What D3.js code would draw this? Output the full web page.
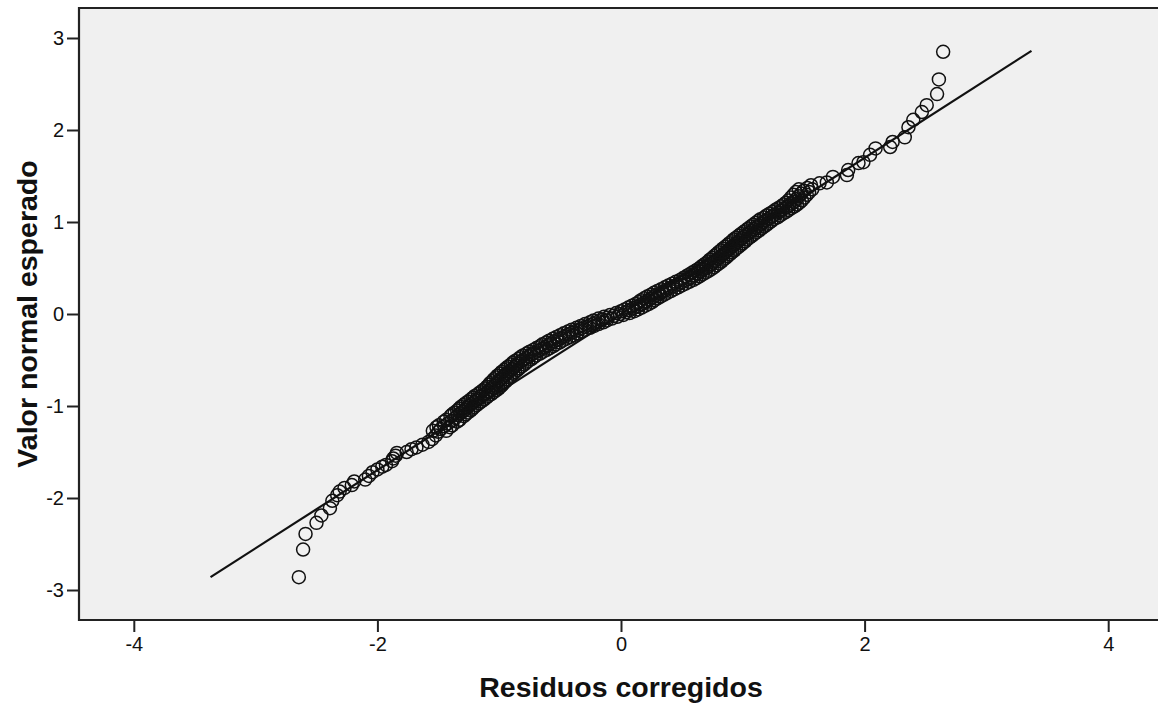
<!DOCTYPE html>
<html>
<head>
<meta charset="utf-8">
<script src="https://cdn.jsdelivr.net/npm/d3@7"></script>
<style>
  body { margin: 0; background: #fff; }
  svg text { font-family: "Liberation Sans", Arial, sans-serif; fill: #111; }
</style>
</head>
<body>
<div class="qq-plot"></div>
<script>
// residuals (x) and expected normal values (y)
var residuos = [
  -2.645, -2.61, -2.59, -2.50, -2.46, -2.39, -2.37, -2.33, -2.31, -2.27,
  -2.21, -2.19, -2.10, -2.07, -2.04, -2.00, -1.96, -1.93, -1.88, -1.87,
  -1.85, -1.84, -1.76, -1.72, -1.68, -1.63, -1.58, -1.55, -1.52, -1.50,
  -1.48, -1.45, -1.42, -1.39, -1.36, -1.34,
  -1.32, -1.30, -1.28, -1.27, -1.25, -1.23, -1.21, -1.19, -1.17, -1.155,
  -1.135, -1.11, -1.09, -1.07, -1.05, -1.04, -1.025, -1.01, -0.995, -0.98,
  -0.965, -0.95, -0.935, -0.915, -0.895, -0.88, -0.86, -0.845, -0.825, -0.805,
  -0.78, -0.76, -0.735, -0.71, -0.68, -0.65, -0.625, -0.60, -0.575, -0.55,
  -0.52, -0.49, -0.46, -0.43, -0.40, -0.365, -0.33, -0.295, -0.255, -0.22,
  -0.185, -0.15, -0.11, -0.06, -0.01,
  0.04, 0.07, 0.10, 0.13, 0.16, 0.19, 0.21, 0.235, 0.26, 0.285,
  0.315, 0.34, 0.37, 0.40, 0.43, 0.46, 0.49, 0.525, 0.555, 0.58,
  0.605, 0.63, 0.655, 0.675, 0.70, 0.72, 0.74, 0.76, 0.775, 0.795,
  0.815, 0.83, 0.85, 0.865, 0.885, 0.90, 0.92, 0.94, 0.955, 0.975,
  0.99, 1.01, 1.03, 1.05, 1.07, 1.09, 1.11, 1.13, 1.15, 1.17,
  1.19, 1.215, 1.24, 1.26, 1.29, 1.31, 1.33, 1.36, 1.38, 1.40,
  1.42, 1.44, 1.46, 1.48, 1.50, 1.53, 1.56, 1.63, 1.69, 1.74,
  1.855, 1.865, 1.95, 1.99, 2.045, 2.09, 2.21, 2.23, 2.33, 2.36,
  2.40, 2.47, 2.51, 2.595, 2.61, 2.645
];
var esperado = [
  -2.86, -2.56, -2.39, -2.27, -2.19, -2.11, -2.03, -1.97, -1.93, -1.89,
  -1.86, -1.82, -1.80, -1.76, -1.72, -1.69, -1.66, -1.64, -1.60, -1.57,
  -1.54, -1.51, -1.50, -1.47, -1.45, -1.42, -1.39, -1.36, -1.32, -1.28,
  -1.25, -1.22, -1.19, -1.16, -1.13, -1.10,
  -1.08, -1.06, -1.04, -1.02, -1.00, -0.98, -0.96, -0.94, -0.92, -0.90,
  -0.88, -0.86, -0.84, -0.82, -0.80, -0.78, -0.76, -0.74, -0.72, -0.70,
  -0.68, -0.66, -0.64, -0.62, -0.60, -0.58, -0.56, -0.54, -0.52, -0.50,
  -0.48, -0.46, -0.44, -0.42, -0.40, -0.38, -0.36, -0.34, -0.32, -0.30,
  -0.28, -0.26, -0.24, -0.22, -0.20, -0.18, -0.16, -0.14, -0.12, -0.10,
  -0.08, -0.06, -0.04, -0.02, 0.00,
  0.02, 0.04, 0.06, 0.08, 0.10, 0.12, 0.14, 0.16, 0.18, 0.20,
  0.22, 0.24, 0.26, 0.28, 0.30, 0.32, 0.34, 0.36, 0.38, 0.40,
  0.42, 0.44, 0.46, 0.48, 0.50, 0.52, 0.54, 0.56, 0.58, 0.60,
  0.62, 0.64, 0.66, 0.68, 0.70, 0.72, 0.74, 0.76, 0.78, 0.80,
  0.82, 0.84, 0.86, 0.88, 0.90, 0.92, 0.94, 0.96, 0.98, 1.00,
  1.02, 1.04, 1.06, 1.08, 1.10, 1.12, 1.14, 1.16, 1.18, 1.20,
  1.22, 1.25, 1.28, 1.31, 1.34, 1.37, 1.40, 1.42, 1.43, 1.49,
  1.51, 1.565, 1.64, 1.65, 1.73, 1.80, 1.815, 1.87, 1.92, 2.03,
  2.11, 2.195, 2.27, 2.39, 2.55, 2.85
];

// the dense middle of the band: points either side of the ones above
var esperadoB = [
  -1.27, -1.23, -1.21, -1.17, -1.15, -1.11, -1.09, -1.07, -1.05, -1.03,
  -1.01, -0.99, -0.97, -0.95, -0.93, -0.91, -0.89, -0.87, -0.85, -0.83,
  -0.81, -0.79, -0.77, -0.75, -0.73, -0.71, -0.69, -0.67, -0.65, -0.63,
  -0.61, -0.59, -0.57, -0.55, -0.53, -0.51, -0.49, -0.47, -0.45, -0.43,
  -0.41, -0.39, -0.37, -0.35, -0.33, -0.31, -0.29, -0.27, -0.25, -0.23,
  -0.21, -0.19, -0.17, -0.15, -0.13, -0.11, -0.09, -0.07, -0.05, -0.03,
  -0.01,
  0.01, 0.03, 0.05, 0.07, 0.09, 0.11, 0.13, 0.15, 0.17, 0.19,
  0.21, 0.23, 0.25, 0.27, 0.29, 0.31, 0.33, 0.35, 0.37, 0.39,
  0.41, 0.43, 0.45, 0.47, 0.49, 0.51, 0.53, 0.55, 0.57, 0.59,
  0.61, 0.63, 0.65, 0.67, 0.69, 0.71, 0.73, 0.75, 0.77, 0.79,
  0.81, 0.83, 0.85, 0.87, 0.89, 0.91, 0.93, 0.95, 0.97, 0.99,
  1.01, 1.03, 1.05, 1.07, 1.09, 1.11, 1.13, 1.15, 1.17, 1.19,
  1.21, 1.235, 1.265, 1.295, 1.325, 1.355
];
var residuosB = [
  -1.435, -1.515, -1.385, -1.455, -1.325, -1.40, -1.275, -1.365, -1.235, -1.33,
  -1.205, -1.295, -1.165, -1.255, -1.125, -1.215, -1.09, -1.175, -1.045, -1.135,
  -1.005, -1.10, -0.975, -1.075, -0.945, -1.045, -0.915, -1.015, -0.885, -0.98,
  -0.85, -0.945, -0.815, -0.905, -0.78, -0.87, -0.735, -0.825, -0.695, -0.775,
  -0.64, -0.72, -0.585, -0.665, -0.535, -0.615, -0.48, -0.56, -0.42, -0.50,
  -0.36, -0.435, -0.295, -0.365, -0.22, -0.295, -0.145, -0.225, -0.075, -0.14,
  0.02,
  -0.04, 0.11, 0.03, 0.17, 0.09, 0.23, 0.145, 0.275, 0.19, 0.325,
  0.245, 0.38, 0.30, 0.44, 0.36, 0.50, 0.42, 0.56, 0.485, 0.62,
  0.535, 0.67, 0.585, 0.72, 0.635, 0.765, 0.675, 0.805, 0.715, 0.84,
  0.75, 0.875, 0.785, 0.91, 0.82, 0.945, 0.855, 0.985, 0.89, 1.02,
  0.925, 1.055, 0.965, 1.095, 1.005, 1.135, 1.045, 1.175, 1.085, 1.215,
  1.125, 1.255, 1.175, 1.305, 1.22, 1.355, 1.265, 1.40, 1.315, 1.445,
  1.355, 1.485, 1.395, 1.525, 1.435, 1.57
];
var residuosC = [
  -1.545, -1.405, -1.495, -1.345, -1.435, -1.29, -1.385, -1.255, -1.345, -1.22,
  -1.315, -1.185, -1.275, -1.145, -1.235, -1.105, -1.20, -1.065, -1.155, -1.025,
  -1.115, -0.99, -1.085, -0.965, -1.055, -0.935, -1.025, -0.905, -0.995, -0.87,
  -0.96, -0.835, -0.925, -0.795, -0.89, -0.76, -0.845, -0.715, -0.805, -0.665,
  -0.75, -0.61, -0.695, -0.555, -0.645, -0.505, -0.59, -0.45, -0.53, -0.39,
  -0.47, -0.325, -0.405, -0.255, -0.33, -0.185, -0.255, -0.115, -0.185, -0.03,
  -0.09,
  0.07, 0.00, 0.14, 0.06, 0.20, 0.12, 0.255, 0.165, 0.30, 0.215,
  0.355, 0.27, 0.41, 0.33, 0.47, 0.39, 0.53, 0.45, 0.595, 0.51,
  0.645, 0.56, 0.695, 0.61, 0.745, 0.655, 0.785, 0.695, 0.825, 0.73,
  0.86, 0.765, 0.895, 0.80, 0.93, 0.835, 0.965, 0.875, 1.00, 0.91,
  1.035, 0.945, 1.075, 0.985, 1.115, 1.025, 1.155, 1.065, 1.195, 1.105,
  1.235, 1.145, 1.285, 1.195, 1.33, 1.245, 1.375, 1.29, 1.425, 1.335,
  1.465, 1.375, 1.505, 1.415, 1.545, 1.46
];

// reference line ends
var lineaX = [-3.37, 3.37];
var lineaY = [-2.86, 2.86];

var xTicks = [-4, -2, 0, 2, 4];
var yTicks = [-3, -2, -1, 0, 1, 2, 3];

var W = 1158, H = 704;
var margin = {top: 8, left: 79, bottom: 84};

var svg = d3.select(".qq-plot").append("svg")
    .attr("width", W)
    .attr("height", H);

var x = d3.scaleLinear().domain([-4.45, 4.45]).range([margin.left, 1163]);
var y = d3.scaleLinear().domain([-3.326, 3.326]).range([H - margin.bottom, margin.top]);

// plot background
svg.append("rect")
    .attr("x", x(-4.45))
    .attr("y", y(3.326))
    .attr("width", x(4.45) - x(-4.45))
    .attr("height", y(-3.326) - y(3.326))
    .attr("fill", "#f0f0f0");

var xAxis = d3.axisBottom(x).tickValues(xTicks).tickSize(12).tickPadding(5)
    .tickFormat(d3.format("d"));
var yAxis = d3.axisLeft(y).tickValues(yTicks).tickSize(12).tickPadding(3)
    .tickFormat(d3.format("d"));

var gx = svg.append("g")
    .attr("transform", "translate(0," + y(-3.326) + ")")
    .call(xAxis);
var gy = svg.append("g")
    .attr("transform", "translate(" + x(-4.45) + ",0)")
    .call(yAxis);

[gx, gy].forEach(function (g) {
  g.select(".domain").remove();
  g.selectAll(".tick line").attr("stroke", "#222").attr("stroke-width", 2);
  g.selectAll(".tick text")
    .style("font-size", "20px")
    .text(function (d) { return d < 0 ? "-" + Math.abs(d) : d; });
});

// frame: left, top, bottom
svg.append("path")
    .attr("d", "M" + W + "," + y(3.326) + "H" + x(-4.45) + "V" + y(-3.326) + "H" + W)
    .attr("fill", "none")
    .attr("stroke", "#222")
    .attr("stroke-width", 2.2);

// reference line
svg.append("line")
    .attr("x1", x(lineaX[0])).attr("y1", y(lineaY[0]))
    .attr("x2", x(lineaX[1])).attr("y2", y(lineaY[1]))
    .attr("stroke", "#111")
    .attr("stroke-width", 2.2);

// points
function pares(rs, es) {
  return rs.map(function (r, i) { return {r: r, e: es[i]}; });
}
var puntos = pares(residuos, esperado)
    .concat(pares(residuosB, esperadoB))
    .concat(pares(residuosC, esperadoB));

svg.selectAll(".dot")
    .data(puntos)
    .enter().append("circle")
    .attr("class", "dot")
    .attr("r", 6.5)
    .attr("cx", function (d) { return x(d.r); })
    .attr("cy", function (d) { return y(d.e); })
    .attr("fill", "none")
    .attr("stroke", "#111")
    .attr("stroke-width", 1.5);

// axis titles
svg.append("text")
    .attr("x", x(0))
    .attr("y", 697)
    .attr("text-anchor", "middle")
    .style("font-size", "28.5px")
    .style("font-weight", "bold")
    .text("Residuos corregidos");

svg.append("text")
    .attr("transform", "translate(37," + y(0) + ") rotate(-90)")
    .attr("text-anchor", "middle")
    .style("font-size", "28.5px")
    .style("font-weight", "bold")
    .text("Valor normal esperado");
</script>
</body>
</html>
